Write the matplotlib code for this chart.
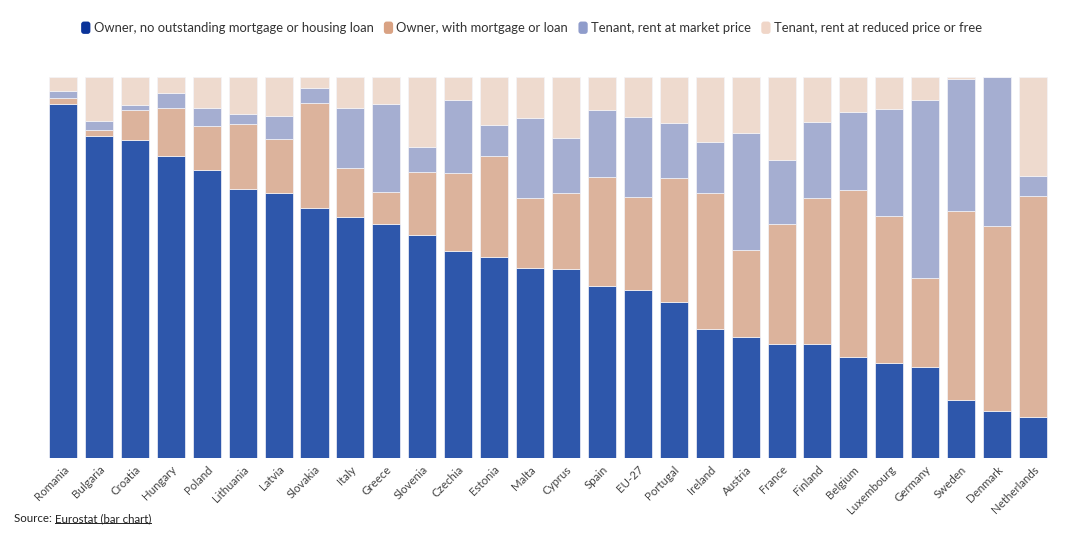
import numpy as np
import matplotlib
matplotlib.use("Agg")
import matplotlib.pyplot as plt
from matplotlib.patches import FancyBboxPatch
from matplotlib.legend_handler import HandlerPatch

countries = ["Romania", "Bulgaria", "Croatia", "Hungary", "Poland", "Lithuania",
             "Latvia", "Slovakia", "Italy", "Greece", "Slovenia", "Czechia",
             "Estonia", "Malta", "Cyprus", "Spain", "EU-27", "Portugal",
             "Ireland", "Austria", "France", "Finland", "Belgium", "Luxembourg",
             "Germany", "Sweden", "Denmark", "Netherlands"]

owner_outright = [92.9, 84.4, 83.4, 79.1, 75.5, 70.6, 69.4, 65.7, 63.2, 61.3,
                  58.6, 54.4, 52.8, 49.9, 49.6, 45.2, 44.1, 40.9, 33.9, 31.8,
                  30.0, 29.9, 26.5, 24.9, 24.0, 15.2, 12.4, 10.7]
owner_mortgage = [1.6, 1.7, 7.8, 12.7, 11.7, 17.0, 14.4, 27.4, 12.8, 8.5,
                  16.3, 20.3, 26.4, 18.2, 19.8, 28.6, 24.4, 32.6, 35.6, 22.7,
                  31.4, 38.3, 43.8, 38.6, 23.2, 49.6, 48.4, 58.1]
tenant_market = [1.8, 2.3, 1.5, 4.0, 4.6, 2.7, 6.0, 4.0, 15.9, 23.0,
                 6.7, 19.1, 8.1, 21.0, 14.5, 17.6, 21.0, 14.4, 13.5, 30.7,
                 16.8, 19.9, 20.4, 28.0, 46.7, 34.7, 39.0, 5.2]
tenant_reduced = [3.7, 11.6, 7.3, 4.2, 8.2, 9.7, 10.2, 2.9, 8.1, 7.2,
                  18.4, 6.2, 12.7, 10.9, 16.1, 8.6, 10.5, 12.1, 17.0, 14.8,
                  21.8, 11.9, 9.3, 8.5, 6.1, 0.5, 0.2, 26.0]

series_names = ["Owner, no outstanding mortgage or housing loan",
                "Owner, with mortgage or loan",
                "Tenant, rent at market price",
                "Tenant, rent at reduced price or free"]
bar_colors = ["#2e57ab", "#dcb39c", "#a5aed1", "#eedace"]
legend_colors = ["#0a3399", "#d9a283", "#8f9ccb", "#f0d6c8"]

plt.rcParams['font.family'] = ['Lato', 'DejaVu Sans']

fig = plt.figure(figsize=(10.88, 5.44), dpi=100)
ax = fig.add_axes([0.0414, 0.1575, 0.9246, 0.7015])

x = np.arange(len(countries))
bottom = np.zeros(len(countries))
for vals, col in zip([owner_outright, owner_mortgage, tenant_market, tenant_reduced], bar_colors):
    vals = np.array(vals)
    ax.bar(x, vals, 0.78, bottom=bottom, color=col, edgecolor="#f4f4f8",
           linewidth=0.5)
    bottom += vals

ax.set_xlim(-0.5, len(countries) - 0.5)
ax.set_ylim(0, 100)
ax.set_yticks([])
ax.set_xticks(x)
ax.set_xticklabels(countries, rotation=45, ha='right', rotation_mode='anchor',
                   fontsize=8.3, color="#444444")
ax.tick_params(axis='x', length=0, pad=4)
for s in ax.spines.values():
    s.set_visible(False)


class RoundHandler(HandlerPatch):
    def create_artists(self, legend, orig_handle, xdescent, ydescent,
                       width, height, fontsize, trans):
        h = height * 1.35
        w = h * 0.75
        p = FancyBboxPatch((-xdescent + width - w, -ydescent - (h - height) / 2), w, h,
                           boxstyle="round,pad=0,rounding_size=%f" % (w * 0.3),
                           facecolor=orig_handle.get_facecolor(), edgecolor='none',
                           transform=trans)
        return [p]


handles = [plt.Rectangle((0, 0), 1, 1, facecolor=c) for c in legend_colors]
fig.legend(handles, series_names, loc='center', bbox_to_anchor=(0.488, 0.948),
           ncol=4, frameon=False, fontsize=9.4, handlelength=0.8,
           handletextpad=0.25, columnspacing=0.7, labelcolor="#333333",
           handler_map={plt.Rectangle: RoundHandler()})

t1 = fig.text(0.013, 0.047, "Source: ", fontsize=8.3, color="#222222", va='center')
fig.canvas.draw()
bb = t1.get_window_extent()
x2 = bb.x1 / fig.bbox.width
t2 = fig.text(x2, 0.047, "Eurostat (bar chart)", fontsize=8.3, color="#222222", va='center')
fig.canvas.draw()
bb2 = t2.get_window_extent()
yl = (bb2.y0 + 1) / fig.bbox.height
fig.add_artist(plt.Line2D([bb2.x0 / fig.bbox.width, bb2.x1 / fig.bbox.width], [yl, yl],
                          color="#222222", linewidth=0.7))

fig.savefig("out.png", dpi=100)
